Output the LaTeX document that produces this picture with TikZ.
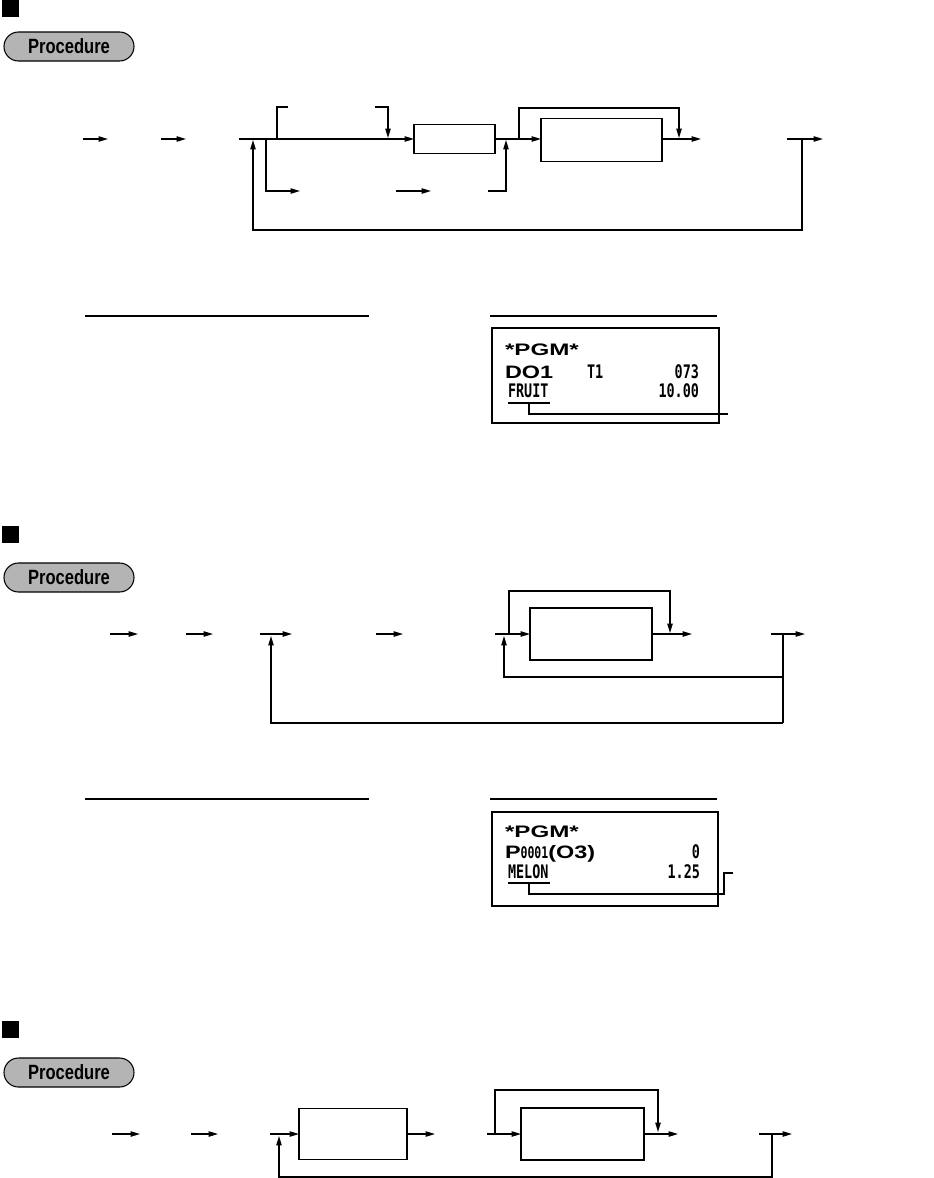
\documentclass[tikz,border=0pt]{standalone}
\usepackage{fontspec}
\setmainfont{Liberation Sans}
\newfontfamily\procfont[FakeStretch=0.8]{Liberation Sans}
\newfontfamily\pgmfont[FakeStretch=1.45]{Liberation Sans}
\newfontfamily\dofont[FakeStretch=1.3]{Liberation Sans}
\newfontfamily\narrowfont[FakeStretch=0.72]{DejaVu Sans Mono}
\usetikzlibrary{arrows.meta,shapes.misc}
\definecolor{pillgray}{RGB}{180,180,180}
\begin{document}
\begin{tikzpicture}[x=0.75pt,y=-0.75pt,
  ln/.style={line width=0.9pt},
  arr/.style={line width=0.9pt,-{Triangle[length=7pt,width=4pt]}},
  boxst/.style={draw,line width=0.9pt,inner sep=0pt,outer sep=0pt},
  pill/.style={rounded rectangle,draw,line width=0.8pt,fill=pillgray,inner sep=0pt,
    minimum width=97.5pt,minimum height=21.75pt,font=\procfont\bfseries\fontsize{15.5}{16}\selectfont},
  sq/.style={fill=black,inner sep=0pt,minimum width=12.75pt,minimum height=12.75pt},
  txt/.style={inner sep=0pt,outer sep=0pt},
  pgm/.style={txt,font=\pgmfont\bfseries\fontsize{12.5}{14}\selectfont},
  dof/.style={txt,font=\dofont\bfseries\fontsize{13.5}{15}\selectfont},
  nar/.style={txt,font=\narrowfont\bfseries\fontsize{14}{16}\selectfont}
]
\useasboundingbox (0,0) rectangle (933,1178);

% ================= Section 1 =================
\node[sq] (sq1) at (10.5,8.5) {};
\node[pill] (p1) at (69,46.5) {Procedure};

\node[boxst,minimum width=60.75pt,minimum height=21.75pt] (b1) at (454.5,139) {};
\node[boxst,minimum width=90.75pt,minimum height=32.25pt] (b2) at (601.5,140) {};

\coordinate (a1s) at (83,139);  \coordinate (a1e) at (108,139);
\coordinate (a2s) at (161,139); \coordinate (a2e) at (186,139);
\coordinate (m1) at (239,139);
\coordinate (u1) at (277,139); \coordinate (u1e) at (288,107);
\coordinate (u2s) at (375,107); \coordinate (u2e) at (388,138);
\coordinate (l1) at (266,139); \coordinate (l1e) at (300,191);
\coordinate (l2s) at (396,191); \coordinate (l2e) at (431,191);
\coordinate (l3s) at (488,191); \coordinate (l3e) at (506,140);
\coordinate (v1) at (519,139); \coordinate (v1t) at (519,108); \coordinate (v1e) at (679,138);
\coordinate (o1e) at (701,139);
\coordinate (r1s) at (787,139); \coordinate (r1e) at (823,139);
\coordinate (r1d) at (802,139); \coordinate (r1b) at (802,230); \coordinate (r1u) at (253,140);

\draw[arr] (a1s) -- (a1e);
\draw[arr] (a2s) -- (a2e);
\draw[arr] (m1) -- (m1 -| b1.west);
\draw[ln] (u1) |- (u1e);
\draw[arr] (u2s) -| (u2e);
\draw[arr] (l1) |- (l1e);
\draw[arr] (l2s) -- (l2e);
\draw[arr] (l3s) -| (l3e);
\draw[ln] (b1.east) -- (v1);
\draw[arr] (v1) -- (v1 -| b2.west);
\draw[arr] (v1) -- (v1t) -| (v1e);
\draw[arr] (b2.east |- o1e) -- (o1e);
\draw[arr] (r1s) -- (r1e);
\draw[arr] (r1d) -- (r1b) -| (r1u);

% headings underlines
\coordinate (h1a) at (85,316);  \coordinate (h1b) at (369,316);
\coordinate (h1c) at (490,316); \coordinate (h1d) at (717,316);
\draw[ln] (h1a) -- (h1b);
\draw[ln] (h1c) -- (h1d);

% receipt 1
\node[boxst,minimum width=170.25pt,minimum height=71.25pt] (rc1) at (605.5,375.5) {};
\node[pgm,anchor=base west] (t1a) at (505,355) {*PGM*};
\node[dof,anchor=base west] (t1b) at (505,378) {DO1};
\node[nar,anchor=base west] (t1c) at (587,378) {T1};
\node[nar,anchor=base east] (t1d) at (699,378) {073};
\node[nar,anchor=base west] (t1e) at (508,397) {FRUIT};
\node[nar,anchor=base east] (t1f) at (699,397) {10.00};
\coordinate (f1a) at (508,403); \coordinate (f1b) at (550,403);
\coordinate (f1c) at (529,403); \coordinate (f1d) at (728,414);
\draw[ln] (f1a) -- (f1b);
\draw[ln] (f1c) |- (f1d);

% ================= Section 2 =================
\node[sq] (sq2) at (10.5,534.5) {};
\node[pill] (p2) at (69,577.5) {Procedure};

\node[boxst,minimum width=91.5pt,minimum height=39pt] (b3) at (591,634) {};

\coordinate (c1s) at (110,634); \coordinate (c1e) at (138,634);
\coordinate (c2s) at (186,634); \coordinate (c2e) at (213,634);
\coordinate (c3s) at (260,634); \coordinate (c3e) at (292,634);
\coordinate (c4s) at (376,634); \coordinate (c4e) at (403,634);
\coordinate (c5s) at (495,634);
\coordinate (w1) at (509,634); \coordinate (w1t) at (509,591); \coordinate (w1e) at (670,633);
\coordinate (o2e) at (692,634);
\coordinate (r2s) at (771,634); \coordinate (r2e) at (805,634);
\coordinate (r2d) at (783,634); \coordinate (r2m) at (783,677); \coordinate (r2b) at (783,723);
\coordinate (r2i) at (504,636); \coordinate (r2o) at (271,636);

\draw[arr] (c1s) -- (c1e);
\draw[arr] (c2s) -- (c2e);
\draw[arr] (c3s) -- (c3e);
\draw[arr] (c4s) -- (c4e);
\draw[arr] (c5s) -- (c5s -| b3.west);
\draw[arr] (w1) -- (w1t) -| (w1e);
\draw[arr] (b3.east) -- (o2e);
\draw[arr] (r2s) -- (r2e);
\draw[ln] (r2d) -- (r2b);
\draw[arr] (r2m) -| (r2i);
\draw[arr] (r2b) -| (r2o);

\coordinate (h2a) at (85,799);  \coordinate (h2b) at (369,799);
\coordinate (h2c) at (490,799); \coordinate (h2d) at (717,799);
\draw[ln] (h2a) -- (h2b);
\draw[ln] (h2c) -- (h2d);

% receipt 2
\node[boxst,minimum width=169.5pt,minimum height=70.5pt] (rc2) at (605,859) {};
\node[pgm,anchor=base west] (t2a) at (505,837) {*PGM*};
\node[txt,anchor=base west] (t2b) at (505,858) {{\dofont\bfseries\fontsize{13.5}{15}\selectfont P}{\narrowfont\bfseries\fontsize{12}{14}\selectfont 0001}{\dofont\bfseries\fontsize{13.5}{15}\selectfont (O3)}};
\node[nar,anchor=base east] (t2c) at (700,858) {0};
\node[nar,anchor=base west] (t2d) at (508,878) {MELON};
\node[nar,anchor=base east] (t2e) at (700,878) {1.25};
\coordinate (f2a) at (508,883); \coordinate (f2b) at (550,883);
\coordinate (f2c) at (529,883); \coordinate (f2d) at (724,894);
\coordinate (f2e) at (733,873);
\draw[ln] (f2a) -- (f2b);
\draw[ln] (f2c) |- (f2d) |- (f2e);

% ================= Section 3 =================
\node[sq] (sq3) at (10.5,1029.5) {};
\node[pill] (p3) at (69,1072.5) {Procedure};

\node[boxst,minimum width=81pt,minimum height=38.25pt] (b4) at (353,1134) {};
\node[boxst,minimum width=92.25pt,minimum height=39pt] (b5) at (582.5,1134) {};

\coordinate (d1s) at (112,1134); \coordinate (d1e) at (140,1134);
\coordinate (d2s) at (191,1134); \coordinate (d2e) at (218,1134);
\coordinate (d3s) at (270,1134);
\coordinate (o4e) at (435,1134);
\coordinate (d4s) at (487,1134);
\coordinate (x1) at (495,1134); \coordinate (x1t) at (495,1090); \coordinate (x1e) at (658,1132);
\coordinate (o5e) at (678,1134);
\coordinate (r3s) at (759,1134); \coordinate (r3e) at (792,1134);
\coordinate (r3d) at (772,1134); \coordinate (r3b) at (772,1177); \coordinate (r3u) at (279,1136);

\draw[arr] (d1s) -- (d1e);
\draw[arr] (d2s) -- (d2e);
\draw[arr] (d3s) -- (b4.west);
\draw[arr] (b4.east) -- (o4e);
\draw[arr] (d4s) -- (b5.west);
\draw[arr] (x1) -- (x1t) -| (x1e);
\draw[arr] (b5.east) -- (o5e);
\draw[arr] (r3s) -- (r3e);
\draw[arr] (r3d) -- (r3b) -| (r3u);
\end{tikzpicture}
\end{document}
